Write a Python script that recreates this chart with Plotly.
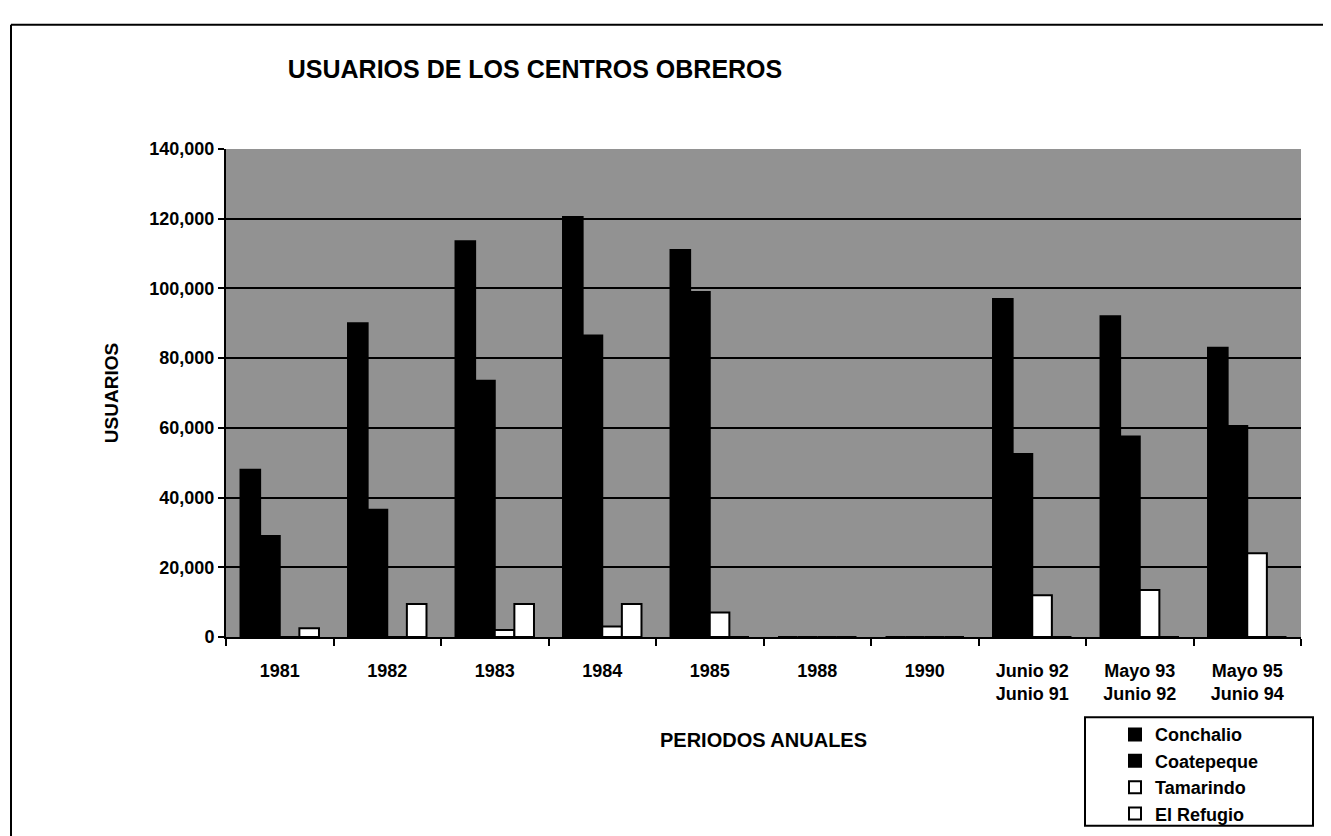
import plotly.graph_objects as go

categories = ["1981", "1982", "1983", "1984", "1985", "1988", "1990",
              "Junio 92<br>Junio 91", "Mayo 93<br>Junio 92", "Mayo 95<br>Junio 94"]
conchalio = [48000, 90000, 113500, 120500, 111000, 0, 0, 97000, 92000, 83000]
coatepeque = [29000, 36500, 73500, 86500, 99000, 0, 0, 52500, 57500, 60500]
tamarindo = [0, 0, 2000, 3000, 7000, 0, 0, 12000, 13500, 24000]
el_refugio = [2500, 9500, 9500, 9500, 0, 0, 0, 0, 0, 0]
y_ticks = [0, 20000, 40000, 60000, 80000, 100000, 120000, 140000]

FONT = "Liberation Sans, Arial, sans-serif"

fig = go.Figure()
series = [
    ("Conchalio", conchalio, "black"),
    ("Coatepeque", coatepeque, "black"),
    ("Tamarindo", tamarindo, "white"),
    ("El Refugio", el_refugio, "white"),
]
for name, vals, col in series:
    fig.add_trace(go.Bar(
        x=categories, y=vals, name="<b>" + name + "</b>",
        marker=dict(color=col, line=dict(color="black", width=2)),
    ))

# plot area in pixels: x 218..1293, y 141..640
def px(x):
    return (x - 218) / 1075

def py(y):
    return (640 - y) / 499

fig.update_layout(
    width=1331, height=836,
    margin=dict(l=218, r=38, t=141, b=196),
    paper_bgcolor="white",
    plot_bgcolor="#929292",
    barmode="group", bargap=0.27, bargroupgap=0,
    font=dict(family=FONT, size=18, color="black"),
    title=dict(text="<b>USUARIOS DE LOS CENTROS OBREROS</b>",
               x=527 / 1331, xanchor="center", y=1 - 61 / 836, yanchor="middle",
               font=dict(size=25, family=FONT, color="black")),
    showlegend=True,
    legend=dict(x=px(1107), y=py(721), xanchor="left", yanchor="top",
                bgcolor="rgba(0,0,0,0)", borderwidth=0,
                font=dict(size=18, family=FONT, color="black"),
                itemwidth=30, tracegroupgap=0),
    shapes=[
        dict(type="rect", xref="paper", yref="paper",
             x0=px(1077), x1=px(1305), y0=py(833), y1=py(722),
             line=dict(color="black", width=2), fillcolor="rgba(0,0,0,0)"),
        dict(type="line", xref="paper", yref="paper",
             x0=px(3), x1=px(1340), y0=py(14), y1=py(14),
             line=dict(color="black", width=2)),
        dict(type="line", xref="paper", yref="paper",
             x0=px(3), x1=px(3), y0=py(14), y1=py(850),
             line=dict(color="black", width=2)),
    ],
)

fig.update_xaxes(
    showline=True, linecolor="black", linewidth=2, mirror=False,
    ticks="outside", tickson="boundaries", ticklen=7, tickcolor="black", tickwidth=2,
    tickfont=dict(size=18, family=FONT),
    tickprefix="<b>", ticksuffix="</b>",
    ticklabelstandoff=16,
    title=dict(text="<b>PERIODOS ANUALES</b>", font=dict(size=20, family=FONT), standoff=30),
    showgrid=False,
)
fig.update_yaxes(
    range=[0, 140000], tickvals=y_ticks,
    ticktext=["<b>" + f"{v:,}" + "</b>" for v in y_ticks],
    showline=True, linecolor="black", linewidth=2,
    ticks="outside", ticklen=6, tickcolor="black", tickwidth=2,
    tickfont=dict(size=18, family=FONT),
    showgrid=True, gridcolor="black", gridwidth=2,
    zeroline=False,
    title=dict(text="<b>USUARIOS</b>", font=dict(size=19, family=FONT), standoff=26),
)

fig.write_html("out.html")
